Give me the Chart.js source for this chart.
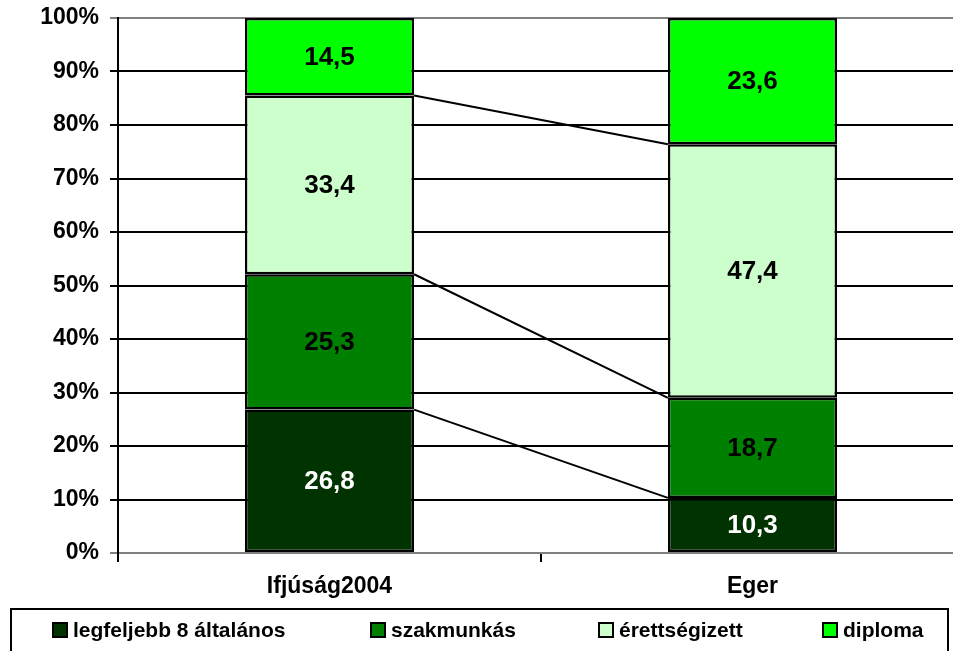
<!DOCTYPE html>
<html>
<head>
<meta charset="utf-8">
<script src="https://cdn.jsdelivr.net/npm/chart.js@4.4.1/dist/chart.umd.min.js"></script>
<style>
  html, body { margin: 0; padding: 0; background: #fff; overflow: hidden; }
  #wrap { width: 953px; height: 651px; overflow: hidden; }
  canvas { display: block; }
</style>
</head>
<body>
<div id="wrap"><canvas id="chart" width="975" height="651"></canvas></div>
<script>
// data (percent shares)
const categories = ["Ifjúság2004", "Eger"];
const seriesNames = ["legfeljebb 8 általános", "szakmunkás", "érettségizett", "diploma"];
const legfeljebb8 = [26.8, 10.3];
const szakmunkas = [25.3, 18.7];
const erettsegizett = [33.4, 47.4];
const diploma = [14.5, 23.6];

const FONT = "'Liberation Sans', Arial, Helvetica, sans-serif";
const fills = ["#003300", "#008000", "#CCFFCC", "#00FF00"];
const labelColors = ["#ffffff", "#000000", "#000000", "#000000"];
const legendX = [53, 371, 599, 823];

const seriesData = [legfeljebb8, szakmunkas, erettsegizett, diploma];

// lines joining the segment tops of the two bars
const seriesLines = {
  id: "seriesLines",
  afterDatasetsDraw(chart) {
    const ctx = chart.ctx;
    ctx.save();
    ctx.strokeStyle = "#000";
    ctx.lineWidth = 2;
    for (let i = 0; i < chart.data.datasets.length - 1; i++) {
      const bars = chart.getDatasetMeta(i).data;
      for (let j = 0; j < bars.length - 1; j++) {
        const a = bars[j], b = bars[j + 1];
        ctx.beginPath();
        ctx.moveTo(a.x + a.width / 2, a.y);
        ctx.lineTo(b.x - b.width / 2, b.y);
        ctx.stroke();
      }
    }
    ctx.restore();
  }
};

const valueLabels = {
  id: "valueLabels",
  afterDatasetsDraw(chart) {
    const ctx = chart.ctx;
    ctx.save();
    ctx.font = "bold 26px " + FONT;
    ctx.textAlign = "center";
    ctx.textBaseline = "middle";
    chart.data.datasets.forEach((ds, i) => {
      chart.getDatasetMeta(i).data.forEach((bar, j) => {
        ctx.fillStyle = labelColors[i];
        const txt = ds.data[j].toFixed(1).replace(".", ",");
        ctx.fillText(txt, bar.x, (bar.y + bar.base) / 2 + 1);
      });
    });
    ctx.restore();
  }
};

const boxLegend = {
  id: "boxLegend",
  afterDraw(chart) {
    const ctx = chart.ctx;
    ctx.save();
    ctx.strokeStyle = "#000";
    ctx.lineWidth = 2;
    ctx.strokeRect(11, 609, 937, 60);
    ctx.font = "bold 21px " + FONT;
    ctx.textBaseline = "middle";
    ctx.textAlign = "left";
    chart.data.datasets.forEach((ds, i) => {
      const x = legendX[i];
      ctx.fillStyle = ds.backgroundColor;
      ctx.fillRect(x, 623, 14, 14);
      ctx.strokeRect(x, 623, 14, 14);
      ctx.fillStyle = "#000";
      ctx.fillText(ds.label, x + 20, 631);
    });
    ctx.restore();
  }
};

new Chart(document.getElementById("chart"), {
  type: "bar",
  data: {
    labels: categories,
    datasets: seriesNames.map((name, i) => ({
      label: name,
      data: seriesData[i],
      backgroundColor: fills[i],
      borderColor: "#000",
      borderWidth: 2.5,
      borderSkipped: false,
      categoryPercentage: 1,
      barPercentage: 0.4
    }))
  },
  options: {
    responsive: false,
    animation: false,
    layout: { padding: { top: 18, right: 11, left: 0, bottom: 0 } },
    plugins: {
      legend: { display: false },
      tooltip: { enabled: false }
    },
    scales: {
      x: {
        stacked: true,
        afterFit: (scale) => { scale.height = 98; },
        grid: {
          display: true,
          drawOnChartArea: false,
          drawTicks: true,
          offset: true,
          tickLength: 9,
          color: "#000",
          lineWidth: 2
        },
        border: { color: "#808080", width: 2 },
        ticks: {
          color: "#000",
          padding: 11,
          font: { family: FONT, size: 23, weight: "bold" }
        }
      },
      y: {
        stacked: true,
        min: 0,
        max: 100,
        afterFit: (scale) => {
          scale.width = 118;
          scale.paddingTop = 0;
          scale.paddingBottom = 0;
        },
        grid: {
          color: (c) => (c.tick && (c.tick.value === 100 || c.tick.value === 0)) ? "#808080" : "#000",
          lineWidth: 2,
          tickLength: 8
        },
        border: { color: "#000", width: 2 },
        ticks: {
          stepSize: 10,
          color: "#000",
          padding: 11,
          font: { family: FONT, size: 23, weight: "bold" },
          callback: (v) => v + "%"
        }
      }
    }
  },
  plugins: [seriesLines, valueLabels, boxLegend]
});
</script>
</body>
</html>
